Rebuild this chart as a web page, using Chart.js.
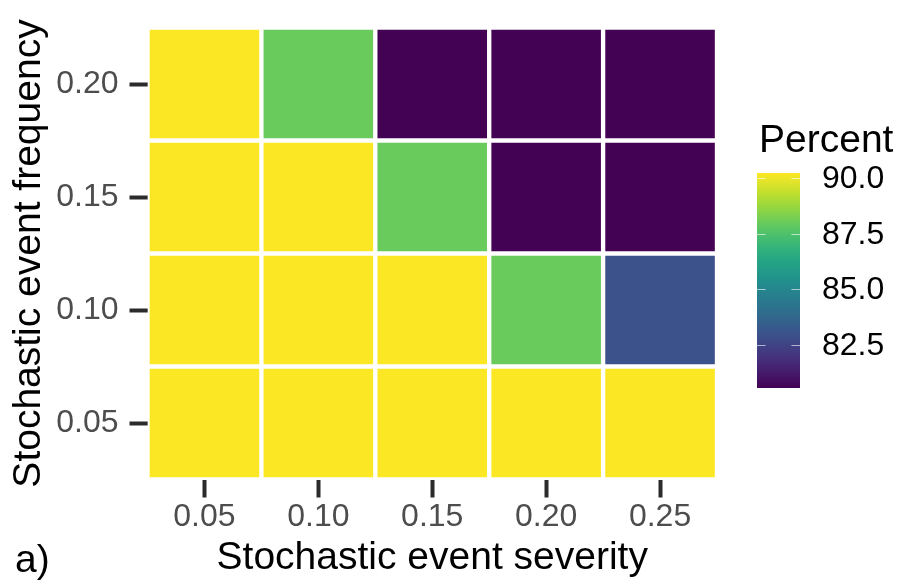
<!DOCTYPE html>
<html>
<head>
<meta charset="utf-8">
<script src="https://cdn.jsdelivr.net/npm/chart.js@4/dist/chart.umd.min.js"></script>
<style>
  html, body { margin: 0; padding: 0; background: #fff; }
  #wrap { width: 903px; height: 585px; }
</style>
</head>
<body>
<div id="wrap"><canvas id="heat" width="903" height="585"></canvas></div>
<script>
// x: severity, y: frequency, colour: percent
const severity = ['0.05', '0.10', '0.15', '0.20', '0.25'];
const frequency = [0.05, 0.10, 0.15, 0.20];

// one row per frequency, one value per severity column
const pctFreq05 = [90.2, 90.2, 90.2, 90.2, 90.2];
const pctFreq10 = [90.2, 90.2, 90.2, 88.0, 83.0];
const pctFreq15 = [90.2, 90.2, 88.0, 80.6, 80.6];
const pctFreq20 = [90.2, 88.0, 80.6, 80.6, 80.6];
const percentRows = [pctFreq05, pctFreq10, pctFreq15, pctFreq20];

const colourLimits = [80.57, 90.22];
const legendTicks = [82.5, 85.0, 87.5, 90.0];

const FONT = "'Liberation Sans', Arial, Helvetica, sans-serif";
const VIRIDIS = ['#440154', '#472d7b', '#3b528b', '#2c728e', '#21908c',
                 '#27ad81', '#5dc863', '#aadc32', '#fde725'];

function hexToRgb(h) {
  const n = parseInt(h.slice(1), 16);
  return [(n >> 16) & 255, (n >> 8) & 255, n & 255];
}

/** Linear interpolation across the viridis stops, t in [0, 1]. */
function viridis(t) {
  t = Math.min(1, Math.max(0, t));
  const pos = t * (VIRIDIS.length - 1);
  const i = Math.min(VIRIDIS.length - 2, Math.floor(pos));
  const f = pos - i;
  const a = hexToRgb(VIRIDIS[i]), b = hexToRgb(VIRIDIS[i + 1]);
  const c = a.map((v, k) => Math.round(v + (b[k] - v) * f));
  return `rgb(${c[0]}, ${c[1]}, ${c[2]})`;
}

function pctColour(v) {
  return viridis((v - colourLimits[0]) / (colourLimits[1] - colourLimits[0]));
}

const halfStep = 0.025;

const datasets = frequency.map((f, i) => ({
  label: 'frequency ' + f.toFixed(2),
  data: percentRows[i].map(() => [f - halfStep, f + halfStep]),
  backgroundColor: percentRows[i].map(pctColour),
  borderColor: '#ffffff',
  borderWidth: 2.5,
  borderSkipped: false,
  grouped: false,
  barPercentage: 1,
  categoryPercentage: 1
}));

// colour bar legend plus the panel tag
const colourBar = {
  id: 'colourBar',
  afterDraw(chart) {
    const ctx = chart.ctx;
    const x0 = 757, w = 43, top = 173, bottom = 388;
    const toY = v => bottom - (v - colourLimits[0]) / (colourLimits[1] - colourLimits[0]) * (bottom - top);

    ctx.save();
    const grad = ctx.createLinearGradient(0, bottom, 0, top);
    for (let s = 0; s <= 20; s++) grad.addColorStop(s / 20, viridis(s / 20));
    ctx.fillStyle = grad;
    ctx.fillRect(x0, top, w, bottom - top);

    ctx.strokeStyle = 'rgba(255,255,255,0.6)';
    ctx.lineWidth = 1;
    ctx.fillStyle = '#000';
    ctx.font = `32px ${FONT}`;
    ctx.textAlign = 'left';
    ctx.textBaseline = 'middle';
    legendTicks.forEach(v => {
      const y = Math.round(toY(v)) + 0.5;
      ctx.beginPath();
      ctx.moveTo(x0, y); ctx.lineTo(x0 + w / 5, y);
      ctx.moveTo(x0 + w - w / 5, y); ctx.lineTo(x0 + w, y);
      ctx.stroke();
      ctx.fillText(v.toFixed(1), 822, y + 1);
    });

    ctx.font = `39px ${FONT}`;
    ctx.textBaseline = 'alphabetic';
    ctx.fillText('Percent', 759, 152);
    ctx.fillText('a)', 15, 572);
    ctx.restore();
  }
};

new Chart(document.getElementById('heat'), {
  type: 'bar',
  data: { labels: severity, datasets },
  options: {
    responsive: false,
    animation: false,
    devicePixelRatio: 1,
    layout: { padding: { left: 0, right: 186, top: 27.5, bottom: 0 } },
    plugins: {
      legend: { display: false },
      tooltip: { enabled: false }
    },
    scales: {
      x: {
        type: 'category',
        offset: true,
        grid: { offset: false, drawOnChartArea: false, drawTicks: true, tickLength: 18, tickWidth: 4, tickColor: '#2b2b2b' },
        border: { display: false },
        ticks: { color: '#4d4d4d', padding: 4, font: { family: FONT, size: 32, lineHeight: 1 } },
        title: {
          display: true, text: 'Stochastic event severity', color: '#000',
          padding: { top: 0, bottom: 7 }, font: { family: FONT, size: 39, lineHeight: 1 }
        },
        afterFit: s => { s.height = 105.5; }
      },
      y: {
        type: 'linear',
        min: frequency[0] - halfStep,
        max: frequency[frequency.length - 1] + halfStep,
        afterBuildTicks: s => { s.ticks = frequency.map(v => ({ value: v })); },
        grid: { drawOnChartArea: false, drawTicks: true, tickLength: 18, tickWidth: 4, tickColor: '#2b2b2b' },
        border: { display: false },
        ticks: {
          color: '#4d4d4d', padding: 11, font: { family: FONT, size: 32, lineHeight: 1 },
          callback: v => v.toFixed(2)
        },
        title: {
          display: true, text: 'Stochastic event frequency', color: '#000',
          padding: { top: 10, bottom: 0 }, font: { family: FONT, size: 39, lineHeight: 1 }
        },
        afterFit: s => { s.width = 147.5; }
      }
    }
  },
  plugins: [colourBar]
});
</script>
</body>
</html>
